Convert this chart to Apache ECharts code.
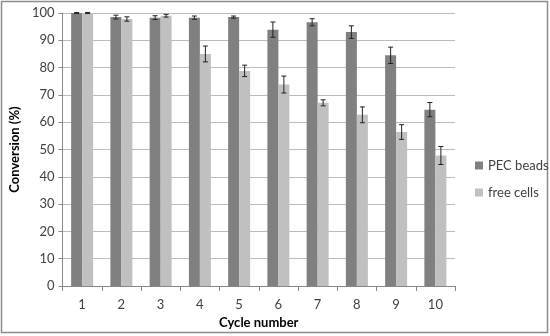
<!DOCTYPE html>
<html><head><meta charset="utf-8">
<script src="https://cdn.jsdelivr.net/npm/echarts@6/dist/echarts.min.js"></script>
<style>html,body{margin:0;padding:0;background:#fff}#c{width:550px;height:336px}</style>
</head><body><div id="c"></div>
<script>
var categories = ['1','2','3','4','5','6','7','8','9','10'];
var pecBeads = [100, 98.5, 98.3, 98.3, 98.5, 93.9, 96.6, 93.0, 84.5, 64.6];
var pecErr   = [0.2, 0.7, 0.7, 0.6, 0.4, 2.8, 1.3, 2.3, 3.0, 2.6];
var freeCells = [100, 97.8, 99.0, 85.0, 78.8, 73.8, 67.1, 62.7, 56.4, 47.8];
var freeErr   = [0.2, 0.8, 0.5, 2.9, 2.1, 3.1, 1.1, 2.9, 2.7, 3.3];
var yTicks = [0,10,20,30,40,50,60,70,80,90,100];

var BW = 11;
var font = 'Lato, "Open Sans", sans-serif';
function errSeries(vals, errs, offset) {
  return {
    type: 'custom',
    silent: true,
    z: 10,
    data: vals.map(function (v, i) { return [i, v - errs[i], v + errs[i]]; }),
    renderItem: function (params, api) {
      var lo = api.coord([api.value(0), api.value(1)]);
      var hi = api.coord([api.value(0), api.value(2)]);
      var x = lo[0] + offset;
      var cap = 2.5;
      return {
        type: 'group',
        children: [
          {type: 'line', shape: {x1: x, y1: lo[1], x2: x, y2: hi[1]}, style: {stroke: '#222', lineWidth: 1}},
          {type: 'line', shape: {x1: x - cap, y1: lo[1], x2: x + cap, y2: lo[1]}, style: {stroke: '#222', lineWidth: 1}},
          {type: 'line', shape: {x1: x - cap, y1: hi[1], x2: x + cap, y2: hi[1]}, style: {stroke: '#222', lineWidth: 1}}
        ]
      };
    }
  };
}
var chart = echarts.init(document.getElementById('c'), null, {renderer: 'canvas'});
chart.setOption({
  animation: false,
  textStyle: {fontFamily: font},
  graphic: [{type: 'rect', shape: {x: 1.5, y: 1.5, width: 546, height: 331}, style: {fill: 'none', stroke: '#8c8c8c', lineWidth: 1.5}, z: -10}],
  grid: {left: 60, right: 95, top: 13, bottom: 50},
  legend: {
    orient: 'vertical', left: 470, top: 154, itemGap: 14, itemWidth: 8, itemHeight: 8,
    icon: 'rect',
    textStyle: {fontSize: 13, color: '#404040', fontFamily: font},
    data: ['PEC beads', 'free cells']
  },
  xAxis: {
    type: 'category', data: categories,
    name: 'Cycle number', nameLocation: 'middle', nameGap: 30,
    nameTextStyle: {fontSize: 13, fontWeight: 'bold', color: '#000', fontFamily: font},
    axisLine: {lineStyle: {color: '#888'}},
    axisTick: {show: true, length: 5, lineStyle: {color: '#888'}},
    axisLabel: {fontSize: 13, color: '#404040', margin: 12}
  },
  yAxis: {
    type: 'value', min: 0, max: 100, interval: 10,
    name: 'Conversion (%)', nameLocation: 'middle', nameGap: 38,
    nameTextStyle: {fontSize: 13, fontWeight: 'bold', color: '#000', fontFamily: font},
    axisLine: {show: true, lineStyle: {color: '#888'}},
    axisTick: {show: true, length: 4, lineStyle: {color: '#888'}},
    axisLabel: {fontSize: 13, color: '#404040', margin: 8},
    splitLine: {lineStyle: {color: '#bcbcbc'}}
  },
  series: [
    {name: 'PEC beads', type: 'bar', data: pecBeads, barWidth: BW, barGap: '0%', itemStyle: {color: '#808080'}},
    {name: 'free cells', type: 'bar', data: freeCells, barWidth: BW, barGap: '0%', itemStyle: {color: '#c0c0c0'}},
    errSeries(pecBeads, pecErr, -BW / 2),
    errSeries(freeCells, freeErr, BW / 2)
  ]
});
</script></body></html>
